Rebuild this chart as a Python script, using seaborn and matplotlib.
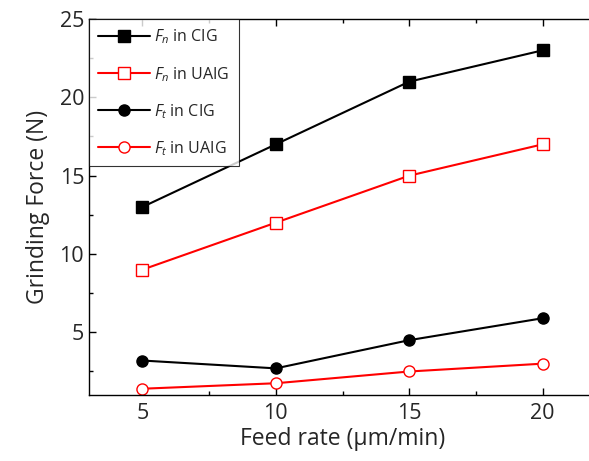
import matplotlib
matplotlib.use("Agg")
import matplotlib.pyplot as plt
import seaborn as sns
from matplotlib.ticker import MultipleLocator

feed_rate = [5, 10, 15, 20]
fn_cig = [13, 17, 21, 23]
fn_uaig = [9, 12, 15, 17]
ft_cig = [3.2, 2.7, 4.5, 5.9]
ft_uaig = [1.4, 1.75, 2.5, 3.0]

sns.set_style("ticks")
plt.rcParams["font.family"] = ["Open Sans", "DejaVu Sans"]
plt.rcParams["mathtext.fontset"] = "custom"
plt.rcParams["mathtext.rm"] = "Open Sans"
plt.rcParams["mathtext.it"] = "Open Sans:italic"

fig = plt.figure(figsize=(5.89, 4.61), dpi=100)
ax = fig.add_axes([89 / 589, 66 / 461, 507 / 589, 376 / 461])

series = [
    (fn_cig, r"$F_n$ in CIG", "black", "s", "black"),
    (fn_uaig, r"$F_n$ in UAIG", "red", "s", "white"),
    (ft_cig, r"$F_t$ in CIG", "black", "o", "black"),
    (ft_uaig, r"$F_t$ in UAIG", "red", "o", "white"),
]
for vals, lab, col, mk, face in series:
    sns.lineplot(x=feed_rate, y=vals, ax=ax, color=col, linewidth=1.5,
                 marker=mk, markersize=8, markerfacecolor=face,
                 markeredgecolor=col, markeredgewidth=1.0, label=lab)

ax.set_xlim(3, 22)
ax.set_ylim(1, 25)
ax.xaxis.set_major_locator(MultipleLocator(5))
ax.xaxis.set_minor_locator(MultipleLocator(2.5))
ax.yaxis.set_major_locator(MultipleLocator(5))
ax.yaxis.set_minor_locator(MultipleLocator(2.5))
ax.tick_params(which="both", direction="in", top=True, right=True,
               labelsize=15.5, width=1, color="black")
ax.tick_params(which="major", length=5)
ax.tick_params(which="minor", length=3)
ax.tick_params(axis="x", which="major", pad=6)
for s in ax.spines.values():
    s.set_linewidth(1)
    s.set_color("black")

ax.set_xlabel("Feed rate (\u03bcm/min)", fontsize=16.5, labelpad=2)
ax.set_ylabel("Grinding Force (N)", fontsize=16.5, labelpad=7)

leg = ax.legend(loc="upper left", bbox_to_anchor=(0, 1), borderaxespad=0,
                fontsize=11.5, frameon=True, fancybox=False, handlelength=3.3,
                handletextpad=0.25, labelspacing=1.15, borderpad=0.55)
leg.get_frame().set_edgecolor("black")
leg.get_frame().set_linewidth(0.8)

fig.savefig("out.png", dpi=100)
